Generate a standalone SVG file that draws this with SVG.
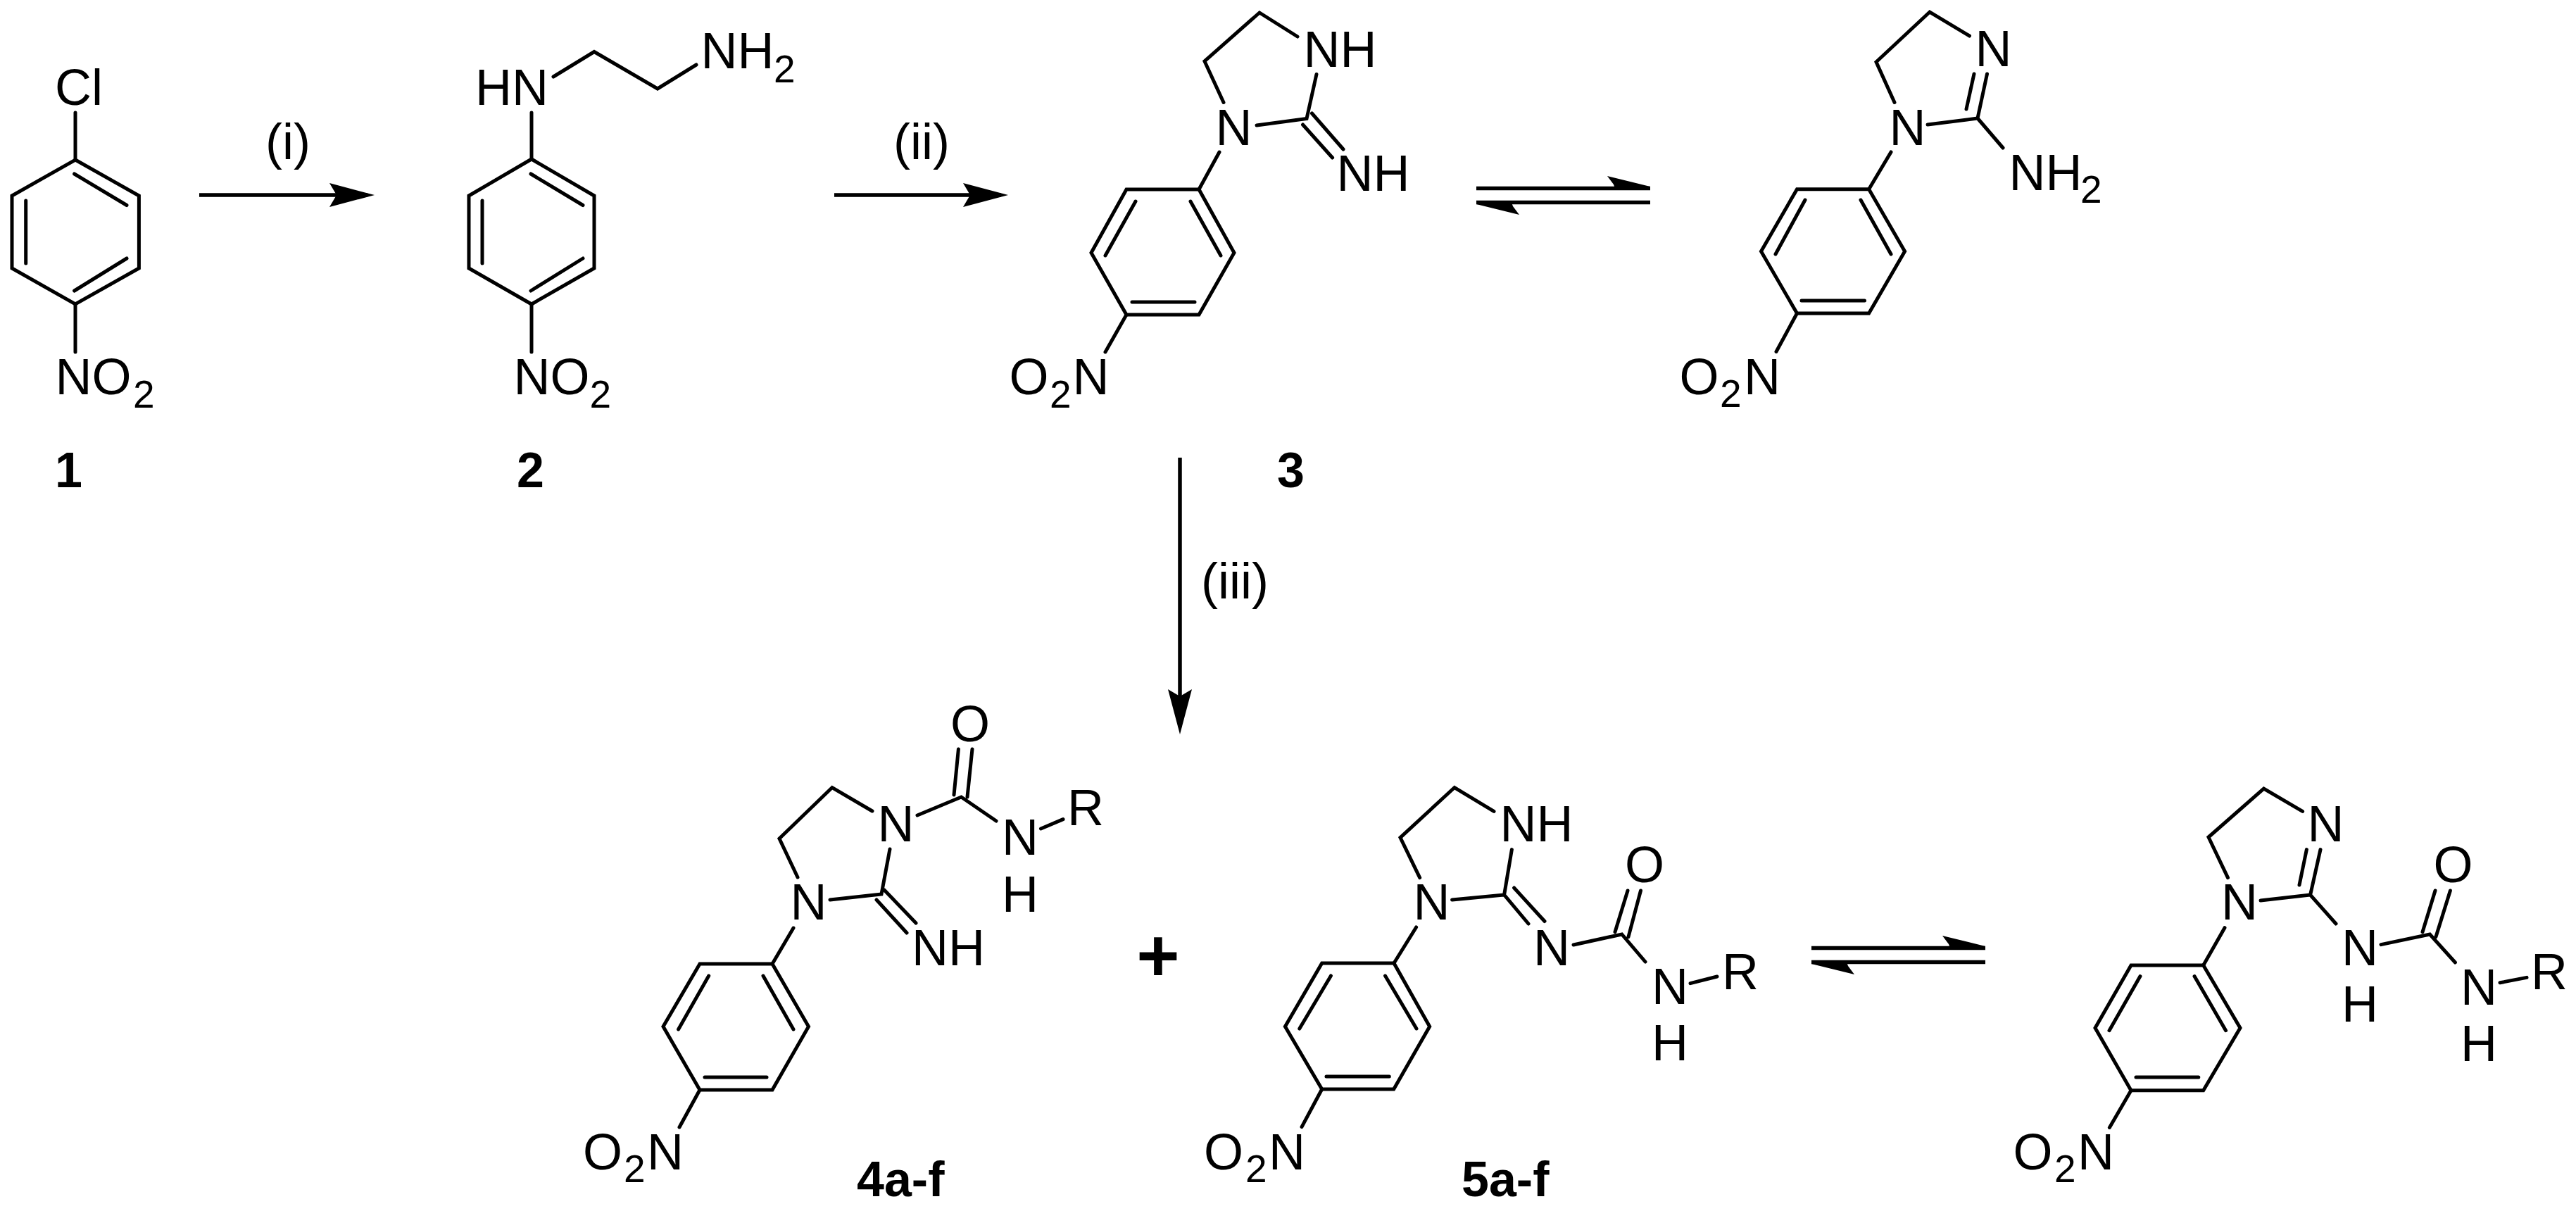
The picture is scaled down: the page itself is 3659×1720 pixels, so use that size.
<svg xmlns="http://www.w3.org/2000/svg" width="3659" height="1720" viewBox="0 0 3659 1720">
<style>
text{font-family:"Liberation Sans",Arial,sans-serif;fill:#000}
.t{font-size:72px}
.s{font-size:55px}
.b{font-size:70px;font-weight:bold}
.p{font-size:105px;font-weight:bold;text-anchor:middle}
.bond{fill:none;stroke:#000;stroke-width:5;stroke-linecap:round;stroke-linejoin:miter}
.arrow{fill:none;stroke:#000;stroke-width:5.5;marker-end:url(#head)}
.eq{fill:none;stroke:#000;stroke-width:5.5;marker-end:url(#half)}
</style>
<defs>
<marker id="head" markerUnits="userSpaceOnUse" markerWidth="64" markerHeight="34" refX="54" refY="17" orient="auto" overflow="visible"><path d="M0 0L64 17L0 34L10 17Z" fill="#000"/></marker>
<marker id="half" markerUnits="userSpaceOnUse" markerWidth="62" markerHeight="22" refX="61" refY="17.5" orient="auto" overflow="visible"><path d="M0 0L61 15L61 20L12 20L9 12Z" fill="#000"/></marker>
</defs>
<rect width="3659" height="1720" fill="#fff"/>
<g id="connectors">
<path class="arrow" d="M283 277H522"/>
<path class="arrow" d="M1185 277H1422"/>
<path class="arrow" d="M1676 650V1033"/>
<path class="eq" d="M2097 267.5H2344"/>
<path class="eq" d="M2344 287.5H2097"/>
<path class="eq" d="M2573 1346.5H2820"/>
<path class="eq" d="M2820 1366.5H2573"/>
</g>
<g id="label-i"><text class="t" x="377" y="226">(i)</text></g>
<g id="label-ii"><text class="t" x="1269" y="226">(ii)</text></g>
<g id="label-iii"><text class="t" x="1706" y="850">(iii)</text></g>
<g id="mol-1">
<path class="bond" d="M107 227L197.4 278V381L107 432L17 381V278Z"/>
<path class="bond" d="M105.6 247L180 291.5M180 367L105.6 413M36.7 285V374M107 160V227M107 432V500"/>
<text class="t" x="78" y="149">Cl</text>
<text class="t"><tspan x="78.5" y="560">NO</tspan><tspan class="s" x="189" y="578.5">2</tspan></text>
<text class="b" x="78" y="692">1</text>
</g>
<g id="mol-2">
<path class="bond" d="M755 226L844 278V381L755 432L666 381V278Z"/>
<path class="bond" d="M754 247L828 291.5M828 367L754 413M685 285V374M755 160V226M755 432V500M786 109L844 73.5L934 126L989 92"/>
<text class="t" x="675" y="149">HN</text>
<text class="t"><tspan x="995.5" y="97">NH</tspan><tspan class="s" x="1099" y="117">2</tspan></text>
<text class="t"><tspan x="729.5" y="560">NO</tspan><tspan class="s" x="837.5" y="578.5">2</tspan></text>
<text class="b" x="734" y="692">2</text>
</g>
<g id="mol-3">
<path class="bond" d="M1600 269H1703L1753 359L1703 447H1600L1550 359Z"/>
<path class="bond" d="M1613 286L1570 363M1691 286L1734 363M1608 429H1697M1703 269L1732 216M1738 145.5L1711 87L1789 18L1843 52M1870 105.5L1856 168.5L1785 178M1863.5 161L1908 212M1850.5 177L1892.6 224M1600 447L1570 500"/>
<text class="t" x="1726.5" y="206">N</text>
<text class="t" x="1851.5" y="95">NH</text>
<text class="t" x="1898.5" y="271">NH</text>
<text class="t"><tspan x="1433.5" y="560">O</tspan><tspan class="s" x="1491" y="578.5">2</tspan><tspan x="1523.5" y="560">N</tspan></text>
<text class="b" x="1814" y="692">3</text>
</g>
<g id="mol-3-tautomer">
<path class="bond" d="M2552.5 268.7H2654.6L2705.6 357L2654.6 445H2552.5L2501.5 357Z"/>
<path class="bond" d="M2564 284L2522 361M2643 284L2686 361M2559 427H2648.5M2654.6 268.7L2686 216M2691 145.5L2665 88L2741 17L2797.5 51M2822.5 105L2809 168L2738 177M2804 105L2793 155M2809 168L2845 210M2552.5 445L2523 499.5"/>
<text class="t" x="2683.5" y="205.5">N</text>
<text class="t" x="2805.5" y="94">N</text>
<text class="t"><tspan x="2853.5" y="270">NH</tspan><tspan class="s" x="2955" y="288">2</tspan></text>
<text class="t"><tspan x="2385.5" y="559.5">O</tspan><tspan class="s" x="2443" y="578">2</tspan><tspan x="2477" y="559.5">N</tspan></text>
</g>
<g id="mol-4">
<path class="bond" d="M994 1369H1097L1148.5 1458L1097 1548H994L942 1458Z"/>
<path class="bond" d="M1006.7 1386L963.6 1462M1084 1386L1127 1462M1001 1530H1089M1097 1369L1127 1318M1133 1246L1107 1191L1182 1118.5L1239 1152M1264 1206L1252 1270L1179 1278M1256 1264L1301 1311M1245 1278L1288 1325M1303 1158L1365.4 1132L1415 1166M1381 1064L1374 1132M1361.4 1064L1355 1129M1478.5 1177L1510 1163.6M994 1548L965 1601"/>
<text class="t" x="1122.6" y="1306">N</text>
<text class="t" x="1246.5" y="1194.6">N</text>
<text class="t" x="1295" y="1371">NH</text>
<text class="t" x="1350" y="1053">O</text>
<text class="t" x="1423" y="1214">N</text>
<text class="t" x="1423" y="1295">H</text>
<text class="t" x="1516" y="1172">R</text>
<text class="t"><tspan x="828" y="1660.7">O</tspan><tspan class="s" x="886" y="1679">2</tspan><tspan x="919" y="1660.7">N</tspan></text>
<text class="b" x="1217" y="1699">4a-f</text>
</g>
<g id="plus"><text class="p" x="1645" y="1393">+</text></g>
<g id="mol-5">
<path class="bond" d="M1877.7 1368H1980L2030.7 1458L1979.7 1547H1877.7L1825.4 1458Z"/>
<path class="bond" d="M1890.4 1386L1845.8 1461M1967.6 1386L2012 1461M1884 1529H1973.3M1980 1368L2011.6 1317M2016.7 1246.6L1989 1189.6L2066 1118.5L2122 1152.4M2147.4 1206.6L2136.6 1271L2062.6 1278M2136.6 1271L2171 1312M2150.6 1261L2194 1308.5M2235 1342L2303.7 1327L2337 1366M2330.5 1265L2313 1330.6M2312 1265L2294 1323.7M2401 1396.7L2439 1387M1877.7 1547L1849 1600.6"/>
<text class="t" x="2007.5" y="1306">N</text>
<text class="t" x="2130.5" y="1195">NH</text>
<text class="t" x="2178" y="1371">N</text>
<text class="t" x="2308" y="1253.4">O</text>
<text class="t" x="2346" y="1425.6">N</text>
<text class="t" x="2346" y="1506.4">H</text>
<text class="t" x="2446" y="1405">R</text>
<text class="t"><tspan x="1710" y="1661">O</tspan><tspan class="s" x="1769" y="1678.6">2</tspan><tspan x="1802" y="1661">N</tspan></text>
<text class="b" x="2076" y="1699">5a-f</text>
</g>
<g id="mol-5-tautomer">
<path class="bond" d="M3027 1371H3129.7L3182 1460L3129.7 1548.7H3027L2976 1460Z"/>
<path class="bond" d="M3040 1386.6L2996 1463.7M3117 1386.6L3161.6 1463.7M3034 1530H3122.8M3129.7 1371L3160 1317.7M3164.5 1246.6L3137 1189L3215.5 1120L3270.6 1152.4M3296 1206.6L3281.6 1271L3211 1279M3276.4 1206.6L3266 1257M3281.6 1271L3318 1312M3382 1341.6L3451.4 1327L3487.4 1367M3480.4 1265L3460 1330.6M3459 1265L3441 1323.7M3551 1395.8L3589 1388.4M3027 1548.7L2996.4 1601.5"/>
<text class="t" x="3155" y="1306">N</text>
<text class="t" x="3277.6" y="1195">N</text>
<text class="t" x="3326" y="1371">N</text>
<text class="t" x="3326" y="1451">H</text>
<text class="t" x="3456.5" y="1253.4">O</text>
<text class="t" x="3495" y="1427">N</text>
<text class="t" x="3495" y="1507">H</text>
<text class="t" x="3595" y="1405">R</text>
<text class="t"><tspan x="2859.5" y="1661">O</tspan><tspan class="s" x="2918" y="1678.6">2</tspan><tspan x="2951" y="1661">N</tspan></text>
</g>
</svg>
